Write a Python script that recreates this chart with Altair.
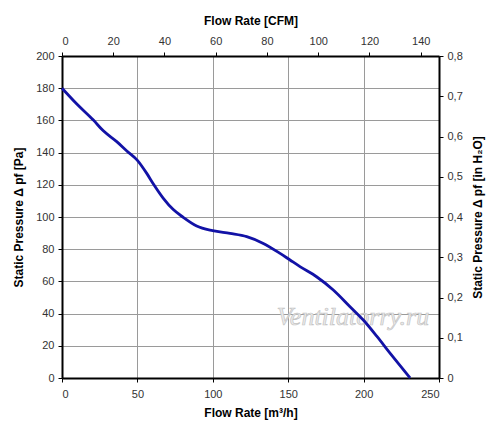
import altair as alt
import pandas as pd

flow_m3h = [0, 10, 20.8, 27.4, 36.3, 43, 50, 56.2, 60.6, 67.2, 73.8, 80.4, 89.3, 99.9, 111.4, 122.5, 133.5, 144.6, 151.2, 157.8, 168.8, 179.9, 191, 199.8, 208.7, 217.5, 230.8]
pressure_pa = [180, 170, 160.2, 153.5, 146.8, 141, 135.2, 127.1, 120.5, 111.6, 104.6, 99.8, 94.4, 91.5, 89.8, 87.8, 83.6, 77.4, 73.3, 69.2, 62.9, 54.7, 44.3, 36, 26, 15.5, 0]

M3H_PER_CFM = 1.699
PA_PER_INH2O = 249.09

df = pd.DataFrame({"q": flow_m3h, "p": pressure_pa})
df["cfm"] = df["q"] / M3H_PER_CFM
df["inh2o"] = df["p"] / PA_PER_INH2O

FONT = "Liberation Sans"

main = alt.Chart(df).mark_line(color="#1212a6", strokeWidth=2.8, interpolate="monotone").encode(
    x=alt.X("q:Q", scale=alt.Scale(domain=[0, 250], nice=False),
            axis=alt.Axis(title="Flow Rate [m³/h]", values=[0, 50, 100, 150, 200, 250],
                          orient="bottom", grid=True, gridColor="#9a9a9a", gridWidth=1,
                          domainColor="black", domainWidth=2, tickColor="black", tickSize=4,
                          labelPadding=6, titlePadding=8)),
    y=alt.Y("p:Q", scale=alt.Scale(domain=[0, 200], nice=False),
            axis=alt.Axis(title="Static Pressure Δ pf [Pa]", values=list(range(0, 201, 20)),
                          orient="left", grid=True, gridColor="#9a9a9a", gridWidth=1,
                          domainColor="black", domainWidth=2, tickColor="black", tickSize=4,
                          labelPadding=4, titlePadding=10)),
)

secondary = alt.Chart(df).mark_line(opacity=0).encode(
    x=alt.X("cfm:Q", scale=alt.Scale(domain=[0, 250 / M3H_PER_CFM], nice=False),
            axis=alt.Axis(title="Flow Rate [CFM]", values=list(range(0, 141, 20)), orient="top",
                          grid=False, domainColor="black", domainWidth=2, tickColor="black",
                          tickSize=4, labelPadding=6, titlePadding=8)),
    y=alt.Y("inh2o:Q", scale=alt.Scale(domain=[0, 0.8], nice=False),
            axis=alt.Axis(title="Static Pressure Δ pf [in H₂O]",
                          values=[0, 0.1, 0.2, 0.3, 0.4, 0.5, 0.6, 0.7, 0.8],
                          labelExpr="datum.value == 0 ? '0' : replace(format(datum.value, '.1f'), '.', ',')",
                          orient="right", grid=False, domainColor="black", domainWidth=2,
                          tickColor="black", tickSize=4, labelPadding=4, titlePadding=10,
                          titleAngle=270, titleBaseline="top")),
)

wm = pd.DataFrame({"q": [193], "p": [38], "t": ["Ventilatorry.ru"]})
watermark = alt.Chart(wm).mark_text(font="Liberation Serif", fontStyle="italic", fontSize=26,
                                    color="#ececec", stroke="#c4c4c4", strokeWidth=0.7).encode(
    x=alt.X("q:Q", scale=alt.Scale(domain=[0, 250], nice=False), axis=None),
    y=alt.Y("p:Q", scale=alt.Scale(domain=[0, 200], nice=False), axis=None),
    text="t:N",
)

chart = alt.layer(watermark, main, secondary).resolve_scale(
    x="independent", y="independent"
).properties(
    width=377, height=322,
    autosize=alt.AutoSizeParams(type="none"),
    padding={"left": 54, "top": 48, "right": 53, "bottom": 45},
    background="white",
).configure_view(stroke=None).configure_axis(
    labelFont=FONT, labelFontSize=11, labelColor="#333333",
    titleFont=FONT, titleFontSize=12, titleFontWeight="bold", titleColor="black",
)

chart.save("out.html", embed_options={"renderer": "svg", "actions": False})
